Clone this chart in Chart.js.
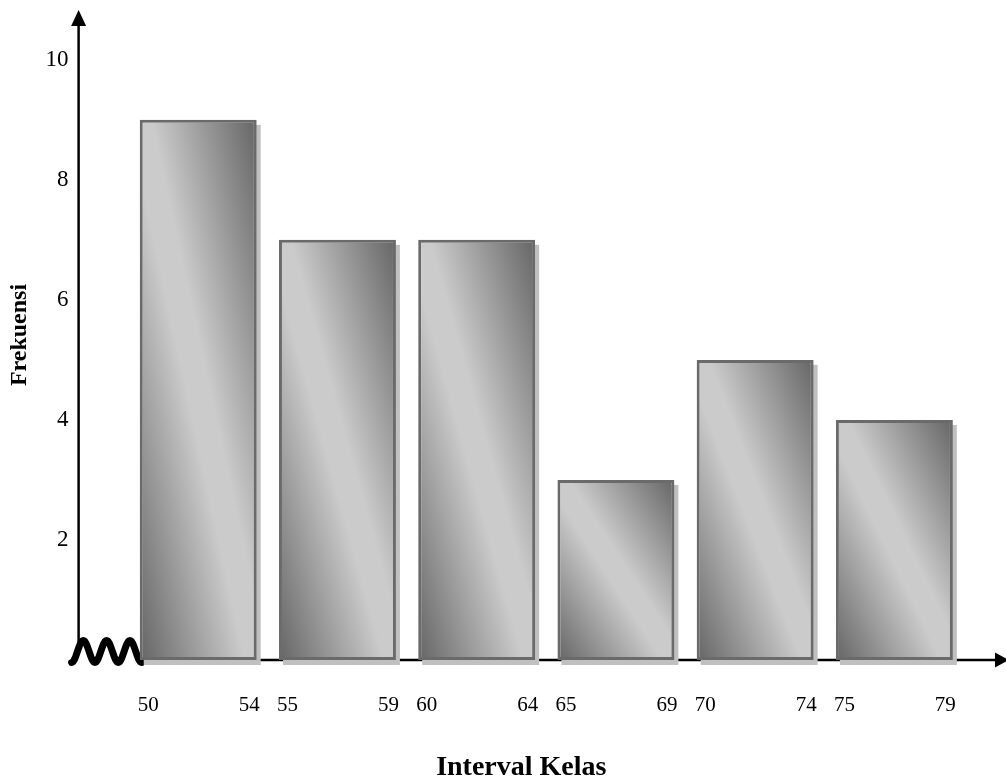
<!DOCTYPE html>
<html>
<head>
<meta charset="utf-8">
<title>Histogram Frekuensi</title>
<style>
  html, body { margin: 0; padding: 0; background: #ffffff; }
  #wrap { width: 1006px; height: 781px; position: relative; }
</style>
<script src="https://cdn.jsdelivr.net/npm/chart.js@4.4.1/dist/chart.umd.min.js"></script>
</head>
<body>
<div id="wrap"><canvas id="chart" width="1006" height="781"></canvas></div>
<script>
// Class intervals and their frequencies
const intervals   = ['50–54', '55–59', '60–64', '65–69', '70–74', '75–79'];
const lowerBounds = [50, 55, 60, 65, 70, 75];
const upperBounds = [54, 59, 64, 69, 74, 79];
const frequencies = [9, 7, 7, 3, 5, 4];
const yTickValues = [2, 4, 6, 8, 10];

const SERIF = '"Liberation Serif", "Times New Roman", serif';
const BAR_PCT = 0.84;

// Diagonal dark-light-dark shading across each bar
function barFill(c) {
  const chart = c.chart;
  if (!chart.chartArea) return '#9a9a9a';
  const { x, y } = chart.scales;
  const w = x.width / frequencies.length * BAR_PCT;
  const cx = x.getPixelForValue(c.dataIndex);
  const top = y.getPixelForValue(c.raw);
  const bot = y.getPixelForValue(0);
  const h = bot - top, cy = (top + bot) / 2;
  const len = Math.hypot(w, h), d = w * h / len;
  const nx = h / len, ny = -w / len;
  const g = chart.ctx.createLinearGradient(cx - nx * d, cy - ny * d, cx + nx * d, cy + ny * d);
  g.addColorStop(0, '#656565');
  g.addColorStop(0.45, '#cbcbcb');
  g.addColorStop(0.55, '#cbcbcb');
  g.addColorStop(1, '#656565');
  return g;
}

const decor = {
  id: 'decor',
  beforeDatasetsDraw(chart) {
    const { ctx, chartArea: a, scales: { y } } = chart;
    const y0 = y.getPixelForValue(0);
    const ax = a.left - 50;
    const sqStart = ax - 7, sqEnd = a.left + 13;
    ctx.save();
    ctx.strokeStyle = '#000';
    ctx.fillStyle = '#000';

    // vertical axis with arrow
    ctx.lineWidth = 2.5;
    ctx.beginPath();
    ctx.moveTo(ax, y0 - 18);
    ctx.lineTo(ax, a.top + 12);
    ctx.stroke();
    ctx.beginPath();
    ctx.moveTo(ax, a.top);
    ctx.lineTo(ax - 7.5, a.top + 16);
    ctx.lineTo(ax + 7.5, a.top + 16);
    ctx.closePath();
    ctx.fill();

    // horizontal axis with arrow
    const tip = chart.width + 3;
    ctx.beginPath();
    ctx.moveTo(sqEnd, y0);
    ctx.lineTo(tip - 10, y0);
    ctx.stroke();
    ctx.beginPath();
    ctx.moveTo(tip, y0);
    ctx.lineTo(tip - 14, y0 - 7.5);
    ctx.lineTo(tip - 14, y0 + 7.5);
    ctx.closePath();
    ctx.fill();

    // axis break squiggle
    ctx.lineWidth = 7;
    ctx.lineCap = 'round';
    ctx.lineJoin = 'round';
    ctx.beginPath();
    const cyq = y0 - 8.5, amp = 11;
    for (let i = 0; i <= 90; i++) {
      const t = i / 90;
      const px = sqStart + t * (sqEnd - sqStart);
      const py = cyq + amp * Math.cos(2 * Math.PI * 3 * t);
      if (i === 0) ctx.moveTo(px, py); else ctx.lineTo(px, py);
    }
    ctx.stroke();

    // soft drop shadow behind bars
    ctx.fillStyle = '#c0c0c0';
    chart.getDatasetMeta(0).data.forEach(b => {
      ctx.fillRect(b.x - b.width / 2 + 4, b.y + 5, b.width, b.base - b.y);
    });
    ctx.restore();
  },
  afterDraw(chart) {
    const { ctx, chartArea: a } = chart;
    ctx.save();
    ctx.fillStyle = '#000';

    // interval bounds under each bar
    ctx.font = '21px ' + SERIF;
    ctx.textBaseline = 'middle';
    const ly = a.bottom + 45;
    chart.getDatasetMeta(0).data.forEach((b, i) => {
      ctx.textAlign = 'left';
      ctx.fillText(String(lowerBounds[i]), b.x - b.width / 2 - 2, ly);
      ctx.textAlign = 'right';
      ctx.fillText(String(upperBounds[i]), b.x + b.width / 2 + 3, ly);
    });

    // axis titles
    ctx.font = 'bold 28px ' + SERIF;
    ctx.textAlign = 'center';
    ctx.textBaseline = 'middle';
    ctx.fillText('Interval Kelas', (a.left + a.right) / 2 - 25, a.bottom + 108);

    ctx.translate(a.left - 109, (a.top + a.bottom) / 2);
    ctx.rotate(-Math.PI / 2);
    ctx.font = 'bold 24px ' + SERIF;
    ctx.fillText('Frekuensi', 0, 0);
    ctx.restore();
  }
};

new Chart(document.getElementById('chart'), {
  type: 'bar',
  data: {
    labels: intervals,
    datasets: [{
      label: 'Frekuensi',
      data: frequencies,
      backgroundColor: barFill,
      borderColor: '#6a6a6a',
      borderWidth: 3,
      borderSkipped: false,
      barPercentage: BAR_PCT,
      categoryPercentage: 1
    }]
  },
  options: {
    responsive: false,
    animation: false,
    devicePixelRatio: 1,
    layout: { padding: { top: 10, right: 42, bottom: 0, left: 0 } },
    plugins: { legend: { display: false }, tooltip: { enabled: false } },
    scales: {
      x: {
        type: 'category',
        offset: true,
        grid: { display: false },
        border: { display: false },
        ticks: { display: false },
        afterFit: s => { s.height = 121; }
      },
      y: {
        min: 0,
        max: 10.83,
        grid: { display: false, drawTicks: false },
        border: { display: false },
        ticks: {
          stepSize: 2,
          includeBounds: false,
          padding: 60,
          color: '#000',
          font: { family: SERIF, size: 23 },
          callback: v => (yTickValues.includes(v) ? String(v) : '')
        },
        afterFit: s => {
          s.width = 128.6;
          s.paddingTop = 0;
          s.paddingBottom = 0;
        }
      }
    }
  },
  plugins: [decor]
});
</script>
</body>
</html>
